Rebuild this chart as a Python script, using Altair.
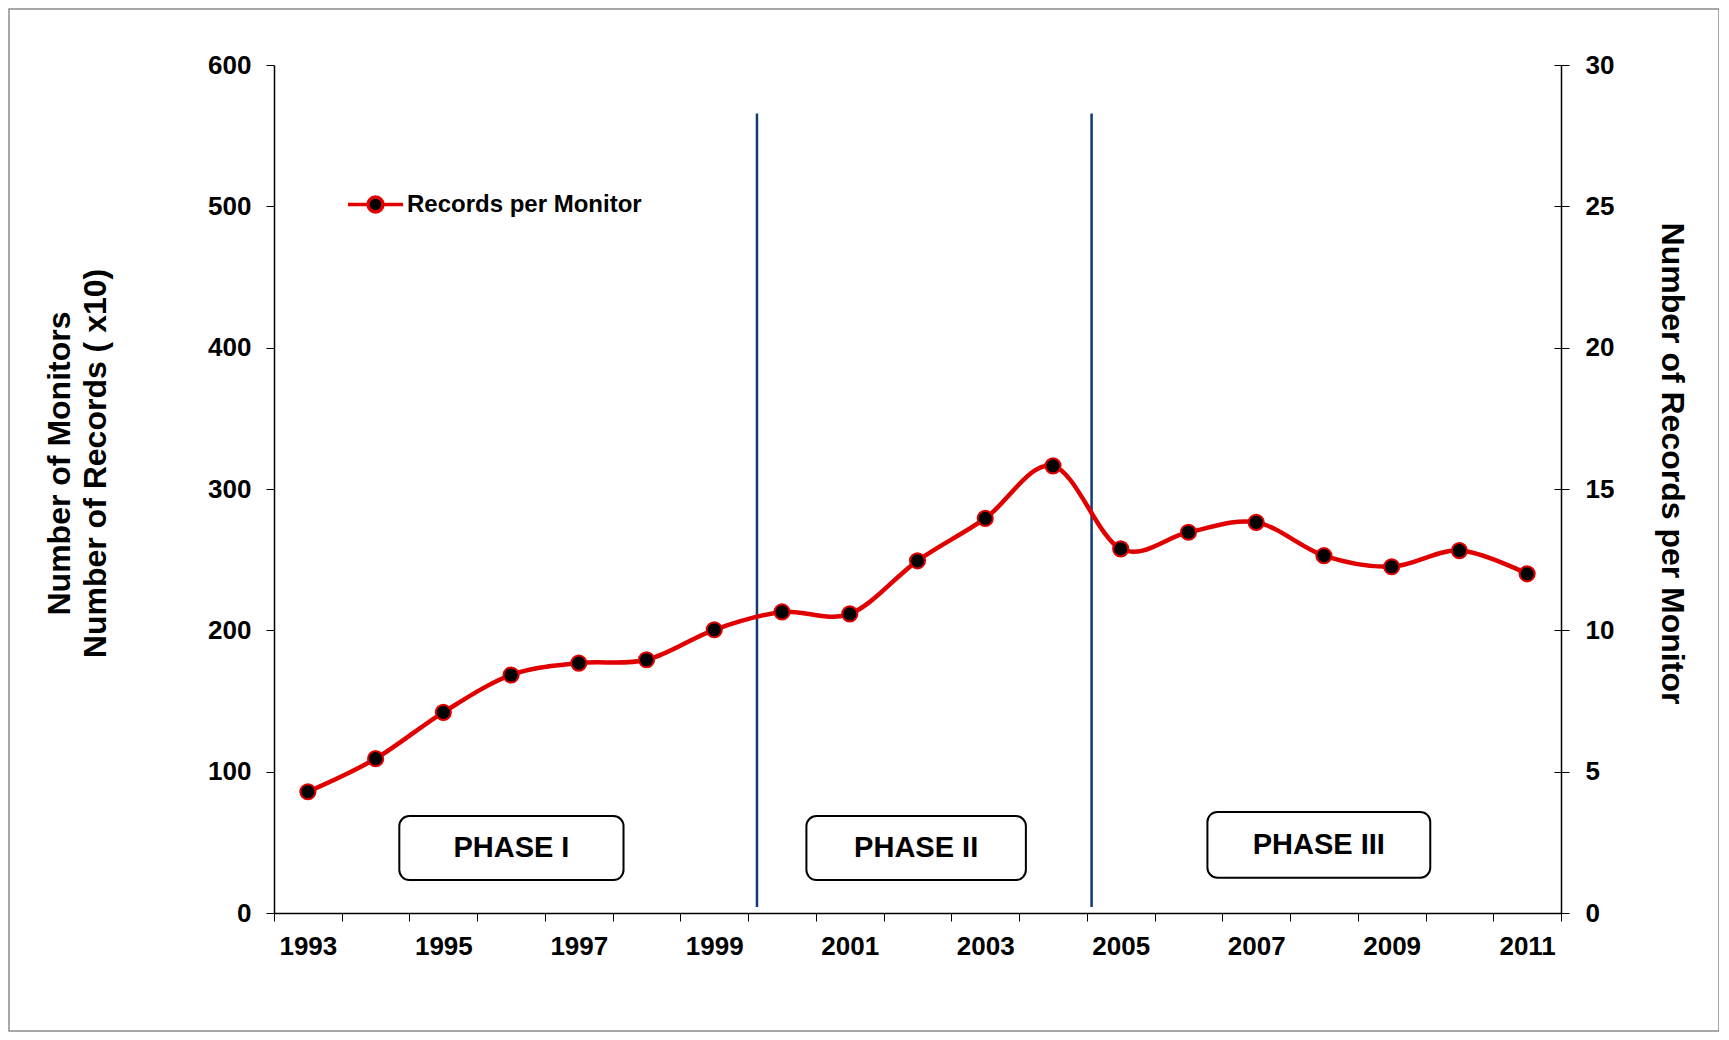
import altair as alt
import pandas as pd

# ---------------- data ----------------
years = list(range(1993, 2012))
records_per_monitor = [4.29, 5.46, 7.10, 8.42, 8.84, 8.96, 10.02, 10.65, 10.58,
                       12.46, 13.96, 15.82, 12.88, 13.47, 13.82, 12.64, 12.25,
                       12.82, 12.00]
series_name = "Records per Monitor"

phase_labels = ["PHASE I", "PHASE II", "PHASE III"]
phase_x_start = [1994.35, 2000.36, 2006.28]
phase_x_end = [1997.66, 2003.60, 2009.57]
phase_y_low = [23.3, 23.3, 25.0]
phase_y_high = [68.6, 68.6, 71.5]

divider_years = [1999.63, 2004.57]
divider_y_low = [4.2, 4.2]
divider_y_high = [565.6, 565.6]

left_ticks = [0, 100, 200, 300, 400, 500, 600]
right_ticks = [0, 5, 10, 15, 20, 25, 30]
x_label_years = [1993, 1995, 1997, 1999, 2001, 2003, 2005, 2007, 2009, 2011]
x_boundaries = [y - 0.5 for y in years] + [years[-1] + 0.5]

FONT = "Liberation Sans"
W, H = 1287, 848
RED = "#e00000"
NAVY = "#0d3b75"

line_df = pd.DataFrame({"year": years, "rpm": records_per_monitor,
                        "series": [series_name] * len(years)})
phase_df = pd.DataFrame({"label": phase_labels, "x0": phase_x_start, "x1": phase_x_end,
                         "y0": phase_y_low, "y1": phase_y_high})
div_df = pd.DataFrame({"year": divider_years, "lo": divider_y_low, "hi": divider_y_high})

x_scale = alt.Scale(domain=[years[0] - 0.5, years[-1] + 0.5], nice=False, zero=False)
yl_scale = alt.Scale(domain=[left_ticks[0], left_ticks[-1]], nice=False)
yr_scale = alt.Scale(domain=[right_ticks[0], right_ticks[-1]], nice=False)

# x axis, part 1: tick marks on the category boundaries
x_tick_axis = alt.Axis(
    values=x_boundaries, title=None, orient="bottom", labels=False,
    tickSize=8, tickColor="black", domainColor="black", domainWidth=1.5, grid=False,
)
# x axis, part 2: year labels at the category centres
x_label_axis = alt.Axis(
    values=x_label_years, title=None, orient="bottom", format="d",
    ticks=False, domain=False, grid=False,
    labelFlush=False, labelOverlap=False,
    labelFont=FONT, labelFontSize=26, labelFontWeight="bold", labelColor="black",
    labelPadding=20,
)

left_axis = alt.Axis(
    values=left_ticks, format="d", grid=False, orient="left",
    title=["Number of Monitors", "Number of Records ( x10)"],
    titleFont=FONT, titleFontSize=32, titleFontWeight="bold", titleColor="black",
    titleAngle=-90, titleX=-215, titleY=398, titleBaseline="middle", titleAlign="center",
    titleLineHeight=36,
    labelFont=FONT, labelFontSize=26, labelFontWeight="bold", labelColor="black",
    labelPadding=15, tickSize=8, tickColor="black", domainColor="black", domainWidth=1.5,
)

right_axis = alt.Axis(
    values=right_ticks, format="d", grid=False, orient="right",
    title="Number of Records per Monitor",
    titleFont=FONT, titleFontSize=32, titleFontWeight="bold", titleColor="black",
    titleAngle=90, titleX=110, titleY=398, titleBaseline="middle", titleAlign="center",
    labelFont=FONT, labelFontSize=26, labelFontWeight="bold", labelColor="black",
    labelPadding=16, tickSize=8, tickColor="black", domainColor="black", domainWidth=1.5,
)

# inner half of the right axis' crossing tick marks
right_inner_ticks = alt.Axis(
    values=right_ticks, orient="left", offset=-W, labels=False, domain=False,
    grid=False, title=None, tickSize=7, tickColor="black",
)

frame = alt.Chart(pd.DataFrame({"f": [0]})).mark_rect(
    fillOpacity=0, stroke="#8c8c8c", strokeWidth=1.5
).encode(x=alt.value(-265), x2=alt.value(W + 158), y=alt.value(-56), y2=alt.value(H + 118))

rules = alt.Chart(div_df).mark_rule(color=NAVY, strokeWidth=2.5).encode(
    x=alt.X("year:Q", scale=x_scale, axis=None),
    y=alt.Y("lo:Q", scale=yl_scale, axis=left_axis),
    y2="hi:Q",
)

boxes = alt.Chart(phase_df).mark_rect(
    fill="white", stroke="black", strokeWidth=2, cornerRadius=10
).encode(
    x=alt.X("x0:Q", scale=x_scale, axis=None), x2="x1:Q",
    y=alt.Y("y0:Q", scale=yl_scale, axis=None), y2="y1:Q",
)

texts = alt.Chart(phase_df).transform_calculate(
    xm="(datum.x0 + datum.x1) / 2", ym="(datum.y0 + datum.y1) / 2"
).mark_text(font=FONT, fontSize=29, fontWeight="bold", color="black",
            align="center", baseline="middle").encode(
    x=alt.X("xm:Q", scale=x_scale, axis=None),
    y=alt.Y("ym:Q", scale=yl_scale, axis=None),
    text="label:N",
)

line = alt.Chart(line_df).mark_line(color=RED, strokeWidth=4.5, interpolate="cardinal").encode(
    x=alt.X("year:Q", scale=x_scale, axis=x_tick_axis),
    y=alt.Y("rpm:Q", scale=yr_scale, axis=right_axis),
)

legend_symbol = ("M-1,0L-0.27,0A0.27,0.27,0,1,1,0.27,0A0.27,0.27,0,1,1,-0.27,0"
                 "M0.27,0L1,0")

points = alt.Chart(line_df).mark_point(
    filled=True, fill="black", shape="circle", size=230, strokeWidth=2, opacity=1
).encode(
    x=alt.X("year:Q", scale=x_scale, axis=x_label_axis),
    y=alt.Y("rpm:Q", scale=yr_scale, axis=right_inner_ticks),
    stroke=alt.Stroke("series:N", scale=alt.Scale(domain=[series_name], range=[RED]),
                      legend=alt.Legend(
                          orient="none", legendX=72, legendY=110, title=None,
                          symbolType=legend_symbol, symbolSize=3025,
                          symbolStrokeWidth=3.5, symbolFillColor="black",
                          symbolStrokeColor=RED, symbolOpacity=1,
                          labelFont=FONT, labelFontSize=24, labelFontWeight="bold",
                          labelColor="black", labelOffset=2, padding=0, labelLimit=500,
                      )),
)

chart = alt.layer(frame, rules, boxes, texts, line, points).resolve_scale(
    x="independent", y="independent"
).properties(
    width=W, height=H,
    autosize=alt.AutoSizeParams(type="none"),
    padding={"left": 266, "top": 57, "right": 158, "bottom": 119},
    background="white",
).configure_view(stroke=None)

chart.save("out.html", embed_options={"renderer": "svg", "actions": False})
